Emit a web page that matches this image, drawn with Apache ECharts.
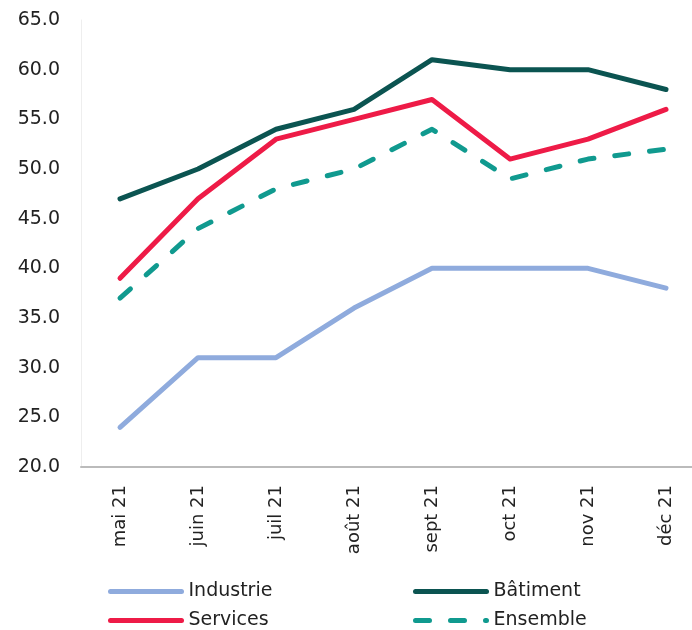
<!DOCTYPE html>
<html>
<head>
<meta charset="utf-8">
<script src="https://cdn.jsdelivr.net/npm/echarts@6/dist/echarts.min.js"></script>
<style>
  html, body { margin: 0; padding: 0; background: #fff; }
  #chart { width: 692px; height: 630px; }
</style>
</head>
<body>
<div id="chart"></div>
<script>
// données
var mois = ['mai 21', 'juin 21', 'juil 21', 'août 21', 'sept 21', 'oct 21', 'nov 21', 'déc 21'];
var industrie = [24, 31, 31, 36, 40, 40, 40, 38];
var batiment = [47, 50, 54, 56, 61, 60, 60, 58];
var services = [39, 47, 53, 55, 57, 51, 53, 56];
var ensemble = [37, 44, 48, 50, 54, 49, 51, 52];

var police = '"DejaVu Sans", sans-serif';

var chart = echarts.init(document.getElementById('chart'));

function legende(nom, left, top) {
    return {
        data: [nom],
        left: left,
        top: top,
        itemWidth: 71,
        itemHeight: 5,
        itemGap: 6,
        padding: 0,
        itemStyle: { opacity: 0 },
        lineStyle: { width: 5, cap: 'round' },
        textStyle: { fontFamily: police, fontSize: 19, color: '#222', padding: [0, 0, 0, 2] }
    };
}

function serie(nom, valeurs, couleur, pointille) {
    return {
        name: nom,
        type: 'line',
        data: valeurs,
        symbol: 'none',
        color: couleur,
        lineStyle: {
            width: 5,
            color: couleur,
            cap: 'round',
            join: 'round',
            type: pointille ? [14, 21] : 'solid'
        }
    };
}

var option = {
    animation: false,
    grid: { left: 81, right: -13, top: 20, bottom: 163, outerBoundsMode: 'none' },
    legend: [
        legende('Industrie', 108, 582),
        legende('Bâtiment', 413, 582),
        legende('Services', 108, 611),
        legende('Ensemble', 413, 611)
    ],
    xAxis: {
        type: 'category',
        data: mois,
        boundaryGap: true,
        axisLine: { lineStyle: { color: '#bbbbbb', width: 2 } },
        axisTick: { show: false },
        axisLabel: {
            rotate: 90,
            margin: 18,
            fontFamily: police,
            fontSize: 18,
            color: '#222'
        }
    },
    yAxis: {
        type: 'value',
        min: 20,
        max: 65,
        interval: 5,
        splitLine: { show: false },
        axisLine: { show: true, lineStyle: { color: '#eeeeee', width: 1 } },
        axisTick: { show: false },
        axisLabel: {
            margin: 21,
            fontFamily: police,
            fontSize: 19,
            color: '#222',
            formatter: function (v) { return v.toFixed(1); }
        }
    },
    series: [
        serie('Industrie', industrie, '#8fabdd', false),
        serie('Bâtiment', batiment, '#0b5451', false),
        serie('Services', services, '#ee1b47', false),
        serie('Ensemble', ensemble, '#109a8f', true)
    ]
};

chart.setOption(option);
</script>
</body>
</html>
